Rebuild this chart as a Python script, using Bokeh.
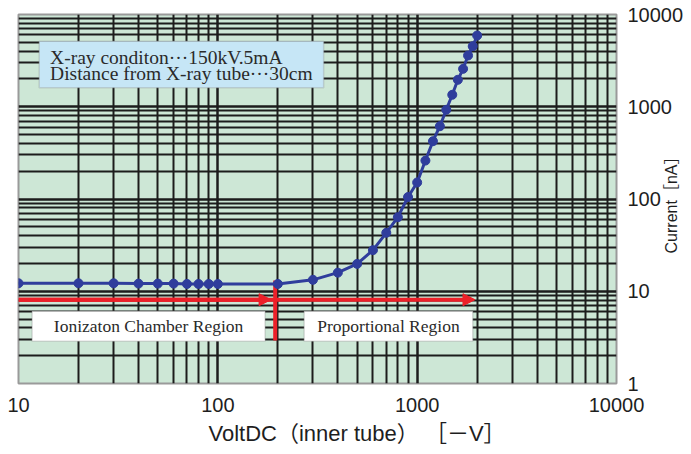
from math import pi
from bokeh.plotting import figure
from bokeh.models import (FixedTicker, BoxAnnotation, Label, Arrow, NormalHead,
                          BasicTickFormatter, Title, LogAxis, CustomJSTickFormatter)
from bokeh.embed import file_html
from bokeh.resources import INLINE

# ---- data ----
voltage = [10, 20, 30, 40, 50, 60, 70, 80, 90, 100,
           200, 300, 400, 500, 600, 700, 800, 900, 1000,
           1100, 1200, 1300, 1400, 1500, 1600, 1700, 1800, 1900, 2000]
current = [12.2, 12.2, 12.2, 12.1, 12.1, 12.1, 12.0, 12.0, 12.0, 12.0,
           12.0, 13.3, 15.9, 19.8, 27.9, 43.0, 63.5, 105, 151,
           261, 423, 615, 927, 1348, 1960, 2577, 3594, 4532, 5918]

x_ticks = [10, 100, 1000, 10000]
x_tick_labels = ["10", "100", "1000", "10000"]
y_ticks = [1, 10, 100, 1000, 10000]
y_tick_labels = ["1", "10", "100", "1000", "10000"]

region_boundary = 194      # V, red vertical divider
arrow_level = 8.1          # nA, level of red arrows
ion_arrow_end = 185
prop_arrow_end = 1950
y_title_start = 25.7       # nA level where the rotated y title begins

info_lines = ["X-ray conditon\u00b7\u00b7\u00b7150kV.5mA",
              "Distance from X-ray tube\u00b7\u00b7\u00b730cm"]
region_names = ["Ionizaton Chamber Region", "Proportional Region"]
x_title = "VoltDC\uff08inner tube\uff09 \uff3b\uff0dV\uff3d"
y_title = "Current\uff3bnA\uff3d"

GRID = "#1c1c1c"
BG = "#cde7d6"
BLUE = "#2f3d9c"
RED = "#ec2029"
SANS = "Liberation Sans, Noto Sans CJK JP"
SERIF = "Liberation Serif"

p = figure(width=691, height=454, x_axis_type="log", y_axis_type="log",
           x_range=(10, 10000), y_range=(1, 10000), y_axis_location="right",
           output_backend="svg", toolbar_location=None,
           min_border_left=18, min_border_right=70, min_border_top=14,
           min_border_bottom=71)

p.background_fill_color = BG
p.outline_line_color = "#9a9a9a"
p.outline_line_width = 2

xt = FixedTicker(ticks=x_ticks,
                 minor_ticks=[m * 10 ** k for k in range(1, 4) for m in range(2, 10)])
yt = FixedTicker(ticks=y_ticks,
                 minor_ticks=[m * 10 ** k for k in range(0, 4) for m in range(2, 10)])
p.xaxis.ticker = xt
p.yaxis.ticker = yt
p.xgrid.ticker = xt
p.ygrid.ticker = yt
p.xaxis.formatter = BasicTickFormatter(use_scientific=False)
p.yaxis.formatter = BasicTickFormatter(use_scientific=False)
p.xaxis.major_label_overrides = dict(zip(x_ticks, x_tick_labels))
p.yaxis.major_label_overrides = dict(zip(y_ticks, y_tick_labels))

for g in (p.xgrid, p.ygrid):
    g.grid_line_color = GRID
    g.grid_line_width = 2.5
    g.minor_grid_line_color = GRID
    g.minor_grid_line_width = 2


def plain_axis(ax):
    ax.axis_line_color = None
    ax.major_tick_line_color = None
    ax.minor_tick_line_color = None
    ax.major_tick_out = 0
    ax.major_tick_in = 0
    ax.minor_tick_out = 0
    ax.minor_tick_in = 0
    ax.major_label_text_font = SANS
    ax.major_label_text_color = "#1e1e1e"


for ax in (p.xaxis[0], p.yaxis[0]):
    plain_axis(ax)
    ax.major_label_text_font_size = "20px"
p.xaxis.major_label_standoff = 14
p.yaxis.major_label_standoff = 11

# info box
p.add_layout(BoxAnnotation(left=12.7, right=339.6, bottom=1605, top=5140,
                           fill_color="#c6e6f6", fill_alpha=1,
                           line_color="#8a8a8a", line_width=1.5))
for txt, yv in zip(info_lines, [3444, 2311]):
    p.add_layout(Label(x=14.4, y=yv, text=txt, text_font=SERIF,
                       text_font_size="19.5px", text_color="#2a2a2a",
                       text_baseline="middle", text_align="left"))

# region boxes
for (l, r), name in zip([(11.7, 172.6), (271, 1901)], region_names):
    p.add_layout(BoxAnnotation(left=l, right=r, bottom=2.87, top=6.08,
                               fill_color="white", fill_alpha=1,
                               line_color="#8a8a8a", line_width=1.5))
    p.add_layout(Label(x=(l * r) ** 0.5, y=4.15, text=name, text_font=SERIF,
                       text_font_size="17.5px", text_color="#2a2a2a",
                       text_baseline="middle", text_align="center"))

# red arrows and divider
for xe in (prop_arrow_end, ion_arrow_end):
    p.add_layout(Arrow(end=NormalHead(size=12, fill_color=RED, line_color=RED),
                       x_start=10, y_start=arrow_level, x_end=xe, y_end=arrow_level,
                       line_color=RED, line_width=4))
p.segment(x0=[region_boundary], y0=[2.93], x1=[region_boundary], y1=[13.1],
          line_color=RED, line_width=4)

# data
p.line(voltage, current, line_color=BLUE, line_width=3)
p.scatter(voltage, current, size=9, fill_color=BLUE, line_color=BLUE)

# x title (below the tick labels)
p.add_layout(Title(text=x_title, align="left", offset=190, text_font=SANS,
                   text_font_size="22px", text_font_style="normal",
                   vertical_align="bottom", text_color="#1e1e1e", standoff=9), "below")

# y title on the right, reading bottom-to-top (a single rotated label)
title_axis = LogAxis(ticker=FixedTicker(ticks=[y_title_start]),
                     formatter=CustomJSTickFormatter(args=dict(t=y_title), code="return t"))
plain_axis(title_axis)
title_axis.major_label_text_font_size = "16px"
title_axis.major_label_orientation = pi / 2
title_axis.major_label_standoff = -15
p.add_layout(title_axis, "right")

open("out.html", "w").write(file_html(p, INLINE))
